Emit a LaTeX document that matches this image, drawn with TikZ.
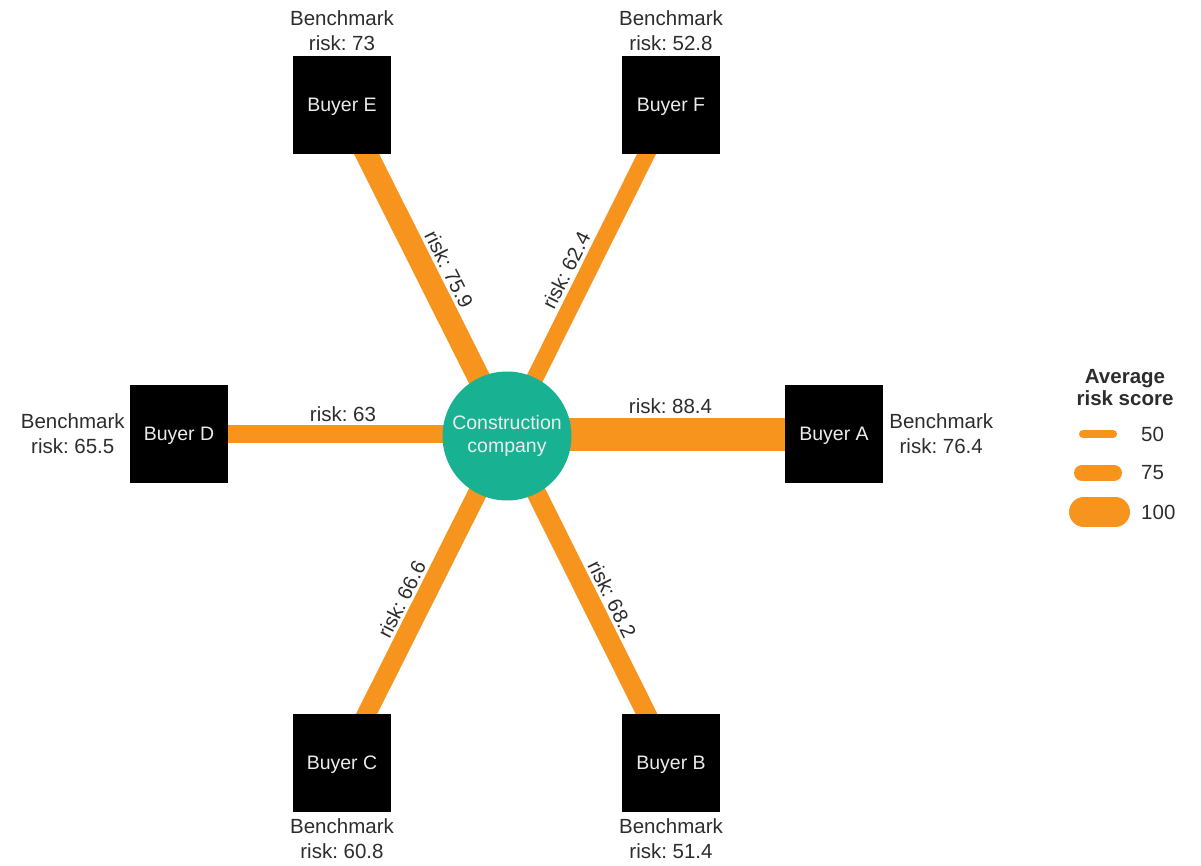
\documentclass[tikz,border=0pt]{standalone}
\usepackage{fontspec}
\setmainfont{Liberation Sans}
\usetikzlibrary{positioning,backgrounds}
\frenchspacing

\definecolor{riskorange}{RGB}{247,148,30}
\definecolor{hubteal}{RGB}{24,178,146}
\definecolor{labelgray}{RGB}{45,45,45}
\definecolor{boxtext}{RGB}{235,235,235}

\tikzset{
  buyer/.style={fill=black, minimum size=98pt, inner sep=0pt, text depth=0pt,
    text=boxtext, font=\fontsize{19.5}{23}\selectfont},
  hub/.style={circle, fill=hubteal, minimum size=129pt, inner sep=0pt,
    text=boxtext, align=center, font=\fontsize{19.5}{23}\selectfont},
  bench/.style={inner sep=0pt, align=center, text=labelgray,
    font=\fontsize{20.5}{25}\selectfont},
  link/.style={draw=riskorange, line cap=butt},
  risklbl/.style={sloped, inner sep=0pt, outer sep=0pt, text=labelgray,
    font=\fontsize{20.5}{25}\selectfont},
  legendbar/.style={draw=riskorange, line cap=round},
  legendnum/.style={anchor=west, inner sep=0pt, text=labelgray,
    font=\fontsize{20.5}{25}\selectfont}
}

\begin{document}
\begin{tikzpicture}[x=1pt,y=-1pt]
\useasboundingbox (0,0) rectangle (1201,866);

% central company and its six buyers
\node[hub] (c) at (507,436) {Construction\\company};
\node[buyer] (a) at (834,434) {Buyer A};
\node[buyer] (b) at (671,763) {Buyer B};
\node[buyer] (cc) at (342,763) {Buyer C};
\node[buyer] (d) at (179,434) {Buyer D};
\node[buyer] (e) at (342,105) {Buyer E};
\node[buyer] (f) at (671,105) {Buyer F};
\coordinate (hub) at (507,434);

% benchmark risk of each buyer
\node[bench, above=5pt of e.north, anchor=south] (be) {Benchmark\\risk: 73};
\node[bench, above=5pt of f.north, anchor=south] (bf) {Benchmark\\risk: 52.8};
\node[bench, below=6pt of cc.south, anchor=north] (bc) {Benchmark\\risk: 60.8};
\node[bench, below=6pt of b.south, anchor=north] (bb) {Benchmark\\risk: 51.4};
\node[bench, left=5pt of d.west, anchor=east] (bd) {Benchmark\\risk: 65.5};
\node[bench, right=6pt of a.east, anchor=west] (ba) {Benchmark\\risk: 76.4};

% links, width scaled by average risk score
\begin{scope}[on background layer]
  \draw[link, line width=33pt]   (hub) -- node[risklbl, pos=0.5,  above=20.5pt] {risk: 88.4} (a.center);
  \draw[link, line width=19.5pt] (hub) -- node[risklbl, pos=0.53, above=13pt]   {risk: 68.2} (b.center);
  \draw[link, line width=19pt]   (hub) -- node[risklbl, pos=0.53, above=12.5pt] {risk: 66.6} (cc.center);
  \draw[link, line width=18pt]   (hub) -- node[risklbl, pos=0.5,  above=12pt]   {risk: 63} (d.center);
  \draw[link, line width=22.5pt] (hub) -- node[risklbl, pos=0.47, above=14.5pt] {risk: 75.9} (e.center);
  \draw[link, line width=17pt]   (hub) -- node[risklbl, pos=0.47, above=12.5pt] {risk: 62.4} (f.center);
\end{scope}

% legend
\node[inner sep=0pt, align=center, text=labelgray,
      font=\fontsize{20.5}{22}\selectfont\bfseries] (lt) at (1125,388) {Average\\risk score};
\coordinate (l1a) at (1083,434); \coordinate (l1b) at (1113,434);
\coordinate (l2a) at (1082,473); \coordinate (l2b) at (1114,473);
\coordinate (l3a) at (1084,512); \coordinate (l3b) at (1115,512);
\draw[legendbar, line width=8pt]  (l1a) -- (l1b);
\draw[legendbar, line width=16pt] (l2a) -- (l2b);
\draw[legendbar, line width=30pt] (l3a) -- (l3b);
\node[legendnum] (n50)  at (1141,434) {50};
\node[legendnum] (n75)  at (1141,473) {75};
\node[legendnum] (n100) at (1141,512) {100};
\end{tikzpicture}
\end{document}
